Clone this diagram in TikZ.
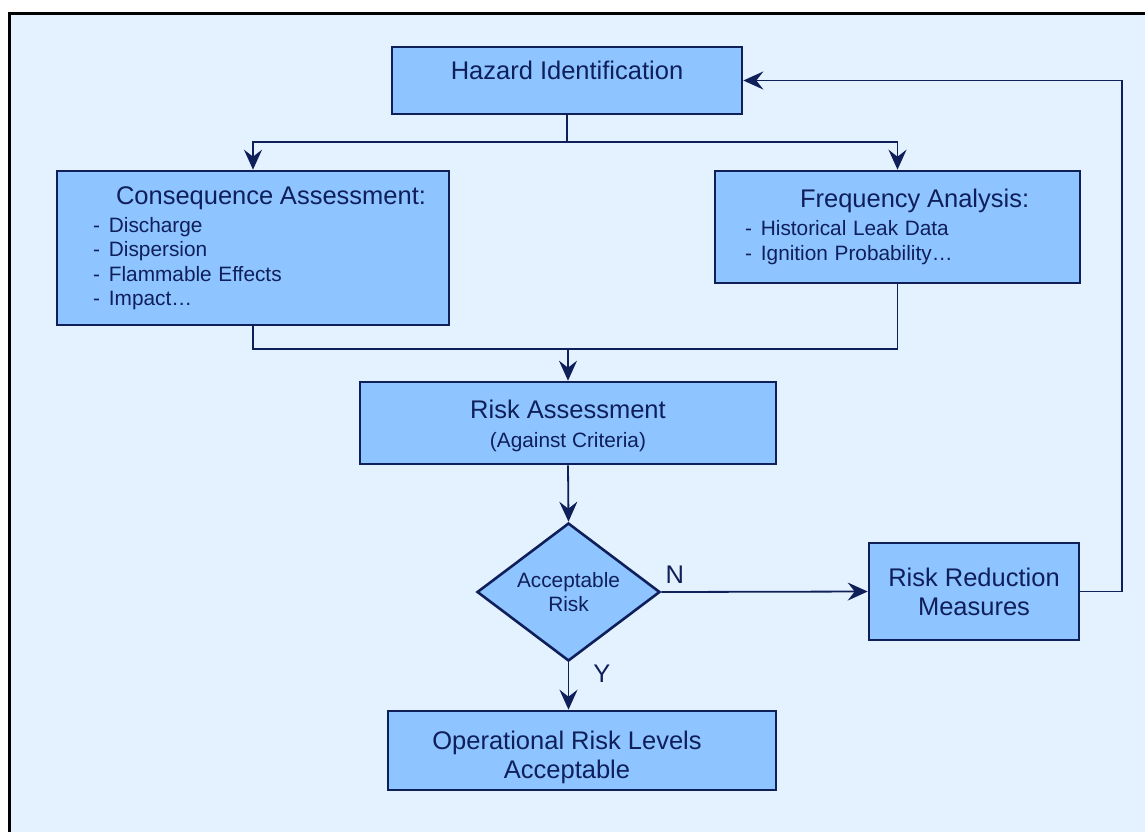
\documentclass[tikz,border=0pt]{standalone}
\usepackage{fontspec}
\setmainfont{Liberation Sans}
\usetikzlibrary{arrows.meta, calc, shapes.geometric}

\definecolor{pagebg}{HTML}{E4F2FF}
\definecolor{boxfill}{HTML}{8EC4FF}
\definecolor{navy}{HTML}{0F1F5A}

\newcommand{\bigtxt}{\fontsize{12.75}{14.5}\selectfont}
\newcommand{\smalltxt}{\fontsize{10.4}{12.25}\selectfont}
\newcommand{\riskitem}[1]{-\hspace{4.5pt}#1}

\begin{document}
\begin{tikzpicture}[x=0.5pt, y=-0.5pt,
        box/.style={draw=navy, line width=1.3pt, fill=boxfill, text=navy, inner sep=0pt},
        txt/.style={text=navy, align=center, inner sep=0pt},
        link/.style={draw=navy, line width=0.9pt},
        flow/.style={link, arrows={-{Stealth[length=10pt, width=9pt, inset=3.5pt]}}}]
        \useasboundingbox (0, 0) rectangle (1145, 831);
        \draw [line width=1.5pt, fill=pagebg] (9, 13) rectangle (1170, 850);
        % boxes
        \node [box, minimum width=175pt, minimum height=33.5pt] (hazard) at (567, 80.5) {};
        \node [txt, font=\bigtxt, yshift=5.25pt] (hazardtext) at (hazard.center) {Hazard Identification};
        \node [box, minimum width=196pt, minimum height=77pt, text width=160pt, align=left] (cons) at (253, 248)
            {\hspace*{11.5pt}\bigtxt\rlap{Consequence Assessment:}\\[1.5pt]
             \smalltxt\riskitem{Discharge}\\ \riskitem{Dispersion}\\ \riskitem{Flammable Effects}\\ \riskitem{Impact…}};
        \node [box, minimum width=182.5pt, minimum height=56pt, text width=152.5pt, align=left] (freq) at (897.5, 227)
            {\hspace*{27.5pt}\bigtxt Frequency Analysis:\\[2pt]
             \smalltxt\riskitem{Historical Leak Data}\\[0.5pt] \riskitem{Ignition Probability…}};
        \node [box, minimum width=208pt, minimum height=41pt] (risk) at (568, 423) {};
        \node [txt, font=\bigtxt, yshift=-1.5pt] (risktext) at (risk.center)
            {Risk Assessment\\ {\smalltxt (Against Criteria)}};
        \node [box, diamond, aspect=1.33, font=\smalltxt, align=center, minimum width=91.5pt, minimum height=69pt] (dec) at (568.5, 592)
            {Acceptable\\Risk};
        \node [box, font=\bigtxt, align=center, minimum width=105pt, minimum height=48.5pt] (reduce) at (974, 591.5)
            {Risk Reduction\\Measures};
        \node [box, minimum width=194pt, minimum height=39.5pt] (oper) at (582, 750.5) {};
        \node [txt, font=\bigtxt, xshift=-7.5pt, yshift=-3.5pt] (opertext) at (oper.center) {Operational Risk Levels\\Acceptable};
        % connectors
        \draw [link] (hazard.south) -- ++(0, 27) coordinate (split);
        \draw [flow] (split) -| (cons.north);
        \draw [flow] (split) -| (freq.north);
        \coordinate (merge) at (568, 349);
        \draw [link] (cons.south) |- (merge);
        \draw [link] (freq.south) |- (merge);
        \draw [flow] (merge) -- (risk.north);
        \draw [flow] (risk.south) -- (dec.north);
        \draw [flow] (dec.east) -- (reduce.west);
        \draw [flow] (dec.south) -- (dec.south |- oper.north);
        \draw [flow] (reduce.east) -- ++(42, 0) |- (hazard.east);
        \node [txt, font=\bigtxt, anchor=south west, xshift=2pt, yshift=4pt] (no) at (dec.east) {N};
        \node [txt, font=\bigtxt, anchor=north west, xshift=12.25pt, yshift=-1pt] (yes) at (dec.south) {Y};
    \end{tikzpicture}
\end{document}
